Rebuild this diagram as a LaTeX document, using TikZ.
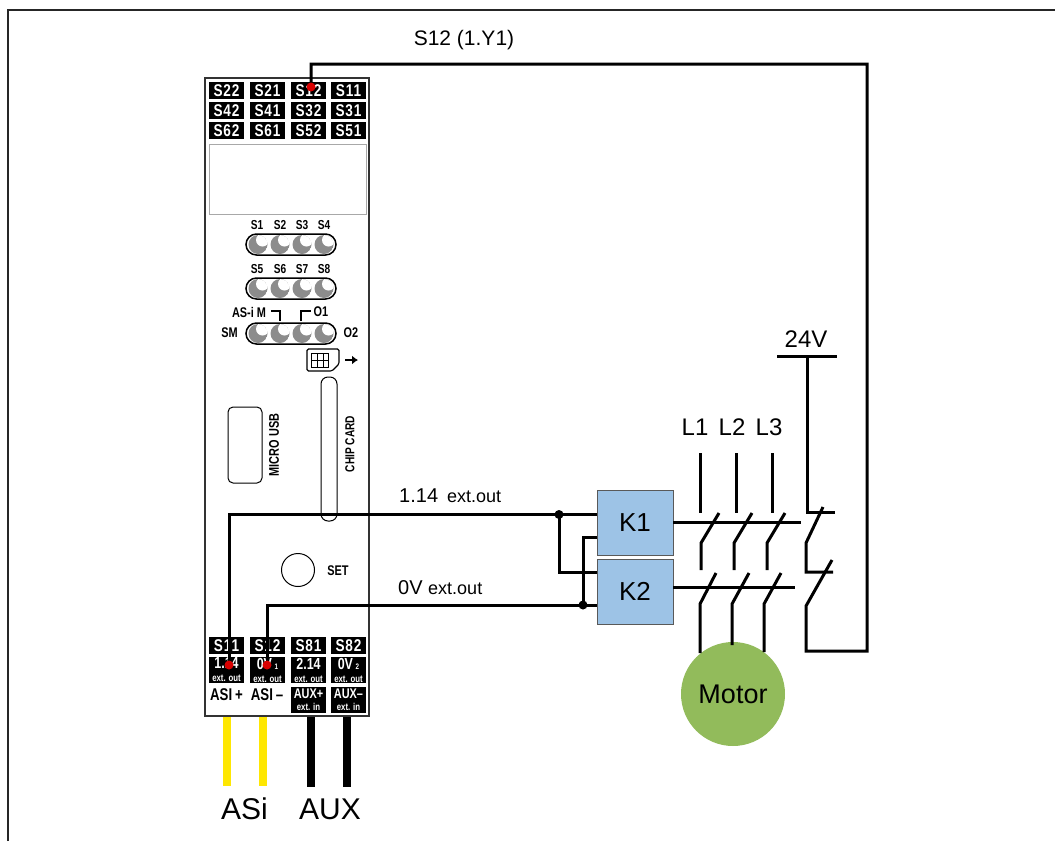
\documentclass[tikz,border=0pt]{standalone}
\usepackage{fontspec}
\setmainfont{Liberation Sans}
\newfontfamily\condfont[FakeStretch=0.78]{Liberation Sans}
\newfontfamily\termfont[FakeStretch=0.8,LetterSpace=5]{Liberation Sans}
\usetikzlibrary{positioning,arrows.meta}
\definecolor{relayblue}{HTML}{9DC3E6}
\definecolor{motorgreen}{HTML}{92BB5B}
\definecolor{ledgray}{HTML}{8C8C8C}
\definecolor{panelgray}{HTML}{A8A8A8}
\newcommand{\fsize}[1]{\fontsize{#1}{#1}\selectfont}
\tikzset{
  wire/.style={line width=3pt,line join=miter},
  term/.style={fill=black,text=white,inner sep=0pt,minimum width=35pt,minimum height=17pt,font=\termfont\bfseries\fsize{17}},
  termtall/.style={term,minimum height=26pt,align=center,font=\condfont\bfseries\fsize{16}},
  caption/.style={inner sep=0pt,font=\condfont\bfseries\fsize{13}},
  relay/.style={draw=gray!70!black,line width=.6pt,fill=relayblue,inner sep=0pt,minimum width=76pt,minimum height=65pt,font=\fsize{26}},
  junction/.style={circle,fill=black,inner sep=0pt,minimum size=9pt},
  reddot/.style={circle,fill=red!85!black,inner sep=0pt,minimum size=9pt},
  label24/.style={inner sep=0pt,font=\fsize{24}}
}
\newcommand{\ledstrip}[1]{%
  \draw[line width=1.5pt,rounded corners=10.5pt,fill=white] (246,#1-10.5) rectangle (336,#1+10.5);
  \foreach \ledx in {258,280,302,324}{
    \begin{scope}
      \clip (\ledx,#1) circle (9.5);
      \fill[ledgray] (\ledx,#1) circle (9.5);
      \fill[white] (\ledx+4.5,#1-4.5) circle (6.5);
    \end{scope}
  }}
\begin{document}
\begin{tikzpicture}[x=1pt,y=-1pt]
      \useasboundingbox (0,0) rectangle (1055,841);
      \draw[line width=2pt,black!85] (8,841) -- (8,9.5) -- (1055,9.5);
      % device
      \draw[line width=1.3pt,draw=black!80] (205,78) rectangle (369,716);
      \draw[line width=1pt,draw=panelgray] (209,144) rectangle (366,214);
      \node[term] (s22) at (226.5,90.5) {S22};
      \node[term] (s21) at (267.5,90.5) {S21};
      \node[term] (s12) at (308.5,90.5) {S12};
      \node[term] (s11) at (348.5,90.5) {S11};
      \node[term] (s42) at (226.5,110.5) {S42};
      \node[term] (s41) at (267.5,110.5) {S41};
      \node[term] (s32) at (308.5,110.5) {S32};
      \node[term] (s31) at (348.5,110.5) {S31};
      \node[term] (s62) at (226.5,130.5) {S62};
      \node[term] (s61) at (267.5,130.5) {S61};
      \node[term] (s52) at (308.5,130.5) {S52};
      \node[term] (s51) at (348.5,130.5) {S51};
      % leds
      \ledstrip{244.5}
      \ledstrip{288.5}
      \ledstrip{333.5}
      \node[caption] (s1) at (257,225) {S1};
      \node[caption] (s2) at (280,225) {S2};
      \node[caption] (s3) at (302,225) {S3};
      \node[caption] (s4) at (324,225) {S4};
      \node[caption] (s5) at (257,269) {S5};
      \node[caption] (s6) at (280,269) {S6};
      \node[caption] (s7) at (302,269) {S7};
      \node[caption] (s8) at (324,269) {S8};
      \node[caption,font=\condfont\bfseries\fsize{14}] (asim) at (249,312) {AS-i M};
      \node[caption,font=\condfont\bfseries\fsize{14}] (o1) at (321,312) {O1};
      \node[caption,font=\condfont\bfseries\fsize{14}] (sm) at (229.5,333) {SM};
      \node[caption,font=\condfont\bfseries\fsize{14}] (o2) at (351,333) {O2};
      \draw[line width=1.2pt] (271,311) -- (280,311) -- (280,321);
      \draw[line width=1.2pt] (301,321) -- (301,311) -- (311,311);
      % sim icon and slots
      \draw[line width=1.1pt,rounded corners=1.5pt] (307,349) -- (339,349) -- (339,364) -- (332,371) -- (307,371) -- cycle;
      \draw[line width=.5pt] (311,353) rectangle (328,367) (317,353) -- (317,367) (323,353) -- (323,367) (311,360) -- (328,360);
      \draw[-{Latex[length=6pt,width=9pt]},line width=2.4pt] (345,360) -- (358,360);
      \draw[line width=1pt,rounded corners=7pt] (321,377) rectangle (337,521);
      \draw[line width=1pt,rounded corners=5pt] (228,407) rectangle (262,483);
      \node[caption,rotate=90,font=\condfont\bfseries\fsize{14}] (usb) at (274,445) {MICRO USB};
      \node[caption,rotate=90] (chip) at (350,444) {CHIP CARD};
      \node[draw,circle,line width=1pt,inner sep=0pt,minimum size=33pt] (set) at (298,570) {};
      \node[caption,font=\condfont\bfseries\fsize{14}] (settxt) at (338,571) {SET};
      % terminals below
      \node[term] (s1t) at (226.5,645.5) {S11};
      \node[term] (s2t) at (267.5,645.5) {S12};
      \node[term] (s81) at (308.5,645.5) {S81};
      \node[term] (s82) at (348.5,645.5) {S82};
      \node[termtall] (t14) at (226.5,670) {1.14\\[-3pt]{\fsize{10}ext. out}};
      \node[termtall] (t0a) at (267.5,670) {0V\,{\fsize{8}1}\\[-3pt]{\fsize{10}ext. out}};
      \node[termtall] (t21) at (308.5,670) {2.14\\[-3pt]{\fsize{10}ext. out}};
      \node[termtall] (t0b) at (348.5,670) {0V\,{\fsize{8}2}\\[-3pt]{\fsize{10}ext. out}};
      \node[inner sep=0pt,font=\condfont\bfseries\fsize{17}] (asip) at (226.5,695) {ASI\,+};
      \node[inner sep=0pt,font=\condfont\bfseries\fsize{17}] (asim2) at (267,695) {ASI\,–};
      \node[termtall,font=\condfont\bfseries\fsize{14}] (auxp) at (308.5,699.5) {AUX+\\[-2pt]{\fsize{10}ext. in}};
      \node[termtall,font=\condfont\bfseries\fsize{14}] (auxm) at (348.5,699.5) {AUX–\\[-2pt]{\fsize{10}ext. in}};
      % supply wires
      \draw[line width=7.3pt,yellow!90!orange] (227,717) -- (227,786);
      \draw[line width=7.3pt,yellow!90!orange] (263,717) -- (263,786);
      \draw[line width=7.3pt,black] (311,717) -- (311,787);
      \draw[line width=7.3pt,black] (347,717) -- (347,787);
      \node[inner sep=0pt,font=\fsize{30}] (asi) at (244.5,809) {ASi};
      \node[inner sep=0pt,font=\fsize{30}] (aux) at (330,809) {AUX};
      % relays and motor
      \node[relay] (k1) at (635,522.5) {K1};
      \node[relay] (k2) at (635,591.5) {K2};
      \node[circle,fill=motorgreen,inner sep=0pt,minimum size=104pt,font=\fsize{27}] (motor) at (733,694) {Motor};
      \node[junction] (j1) at (559,514.5) {};
      \node[junction] (j2) at (583,605) {};
      \coordinate (a12) at (311,87);
      \coordinate (a14) at (229,665);
      \coordinate (a0v) at (267,665);
      \coordinate (k1in) at (597,514.5);
      \coordinate (k1up) at (597,537);
      \coordinate (k2in) at (597,572);
      \coordinate (k2low) at (597,605);
      \coordinate (ret) at (806,651);
      \begin{scope}[wire]
        \draw (a12) -- (311,64) -- (867,64) -- (867,651) -- (ret) -- (806,606) -- (832,560);
        \draw (a14) |- (j1.center) -- (k1in);
        \draw (a0v) |- (j2.center) -- (k2low);
        \draw (j1.center) |- (k2in);
        \draw (j2.center) |- (k1up);
        \draw (k1.east |- 0,522) -- (801,522);
        \draw (k2.east |- 0,587) -- (795,587);
        \draw (700,453) -- (700,513);
        \draw (736,453) -- (736,513);
        \draw (772,453) -- (772,513);
        \draw (719,513) -- (701,543) -- (701,570);
        \draw (752,513) -- (734,543) -- (734,570);
        \draw (785,513) -- (767,543) -- (767,570);
        \draw (716,573) -- (700,604) -- (700,653);
        \draw (749,573) -- (732,604) -- (732,645);
        \draw (781,573) -- (764,604) -- (764,652);
        \draw (777,356) -- (837,356);
        \draw (807,356) -- (807,512) -- (835,512);
        \draw (823,507) -- (806,543) -- (806,572) -- (833,572);
      \end{scope}
      \node[reddot] (dot12) at (a12) {};
      \node[reddot] (dot14) at (a14) {};
      \node[reddot] (dot0v) at (a0v) {};
      \node[label24] (v24) at (806,339) {24V};
      \node[label24] (l1) at (695,427) {L1};
      \node[label24] (l2) at (732,427) {L2};
      \node[label24] (l3) at (769,427) {L3};
      \node[inner sep=0pt,font=\fsize{21}] (s12txt) at (464,40) {S12 (1.Y1)};
      \node[inner sep=0pt,anchor=west,font=\fsize{20}] (w14) at (399,496) {1.14 \,{\fsize{18}ext.out}};
      \node[inner sep=0pt,anchor=west,font=\fsize{20}] (w0v) at (398,588) {0V {\fsize{18}ext.out}};
    \end{tikzpicture}
\end{document}
